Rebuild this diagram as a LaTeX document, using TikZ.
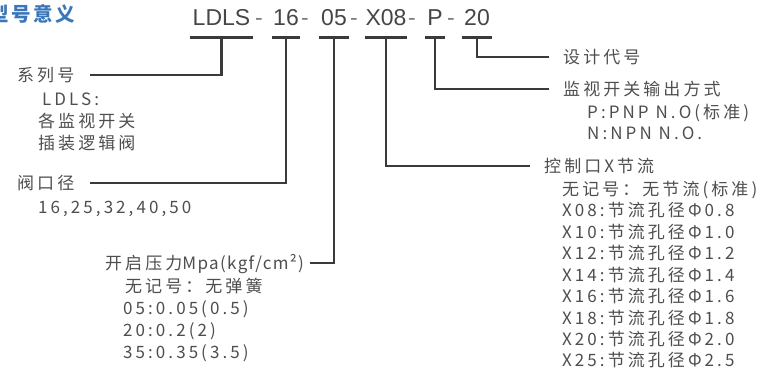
\documentclass[tikz,border=0pt]{standalone}
\usepackage{fontspec}
\setmainfont{Liberation Sans}
\newfontfamily\cjk[LetterSpace=18]{Noto Sans CJK SC}
\newfontfamily\cjktitle[LetterSpace=14]{Noto Sans CJK SC}
\newfontfamily\codefont{Liberation Sans}
\definecolor{txtgray}{RGB}{78,78,78}
\definecolor{linegray}{RGB}{58,58,58}
\definecolor{codegray}{RGB}{70,70,70}
\definecolor{titleblue}{RGB}{58,118,186}
\begin{document}
\begin{tikzpicture}[x=1pt,y=-1pt,
  lbl/.style={anchor=west, inner sep=0pt, text=txtgray, text height=14.5pt, text depth=2pt,
              font=\cjk\fontsize{17}{21}\selectfont},
  titlestyle/.style={anchor=west, inner sep=0pt, text=titleblue, font=\cjktitle\bfseries\fontsize{19.5}{21}\selectfont},
  code/.style={anchor=south, inner xsep=0pt, inner ysep=11pt, text height=15pt, text depth=0pt,
               font=\codefont\fontsize{23}{25}\selectfont, text=codegray},
  sepmark/.style={code, text=codegray!70},
  ul/.style={line width=3pt, draw=linegray},
  conn/.style={line width=2.4pt, draw=linegray}]
\useasboundingbox (0,0) rectangle (768,370);

% title
\node[titlestyle] (title) at (-11,14) {型号意义};

% model code
\node[code, minimum width=63pt] (c1) at (221.5,37) {LDLS};
\node[code, minimum width=28pt] (c2) at (286,37) {16};
\node[code, minimum width=30pt] (c3) at (334,37) {05};
\node[code, minimum width=42pt] (c4) at (386,37) {X08};
\node[code, minimum width=20pt] (c5) at (435,37) {P};
\node[code, minimum width=30pt] (c6) at (477,37) {20};
\node[sepmark] (h1) at (259,37) {-};
\node[sepmark] (h2) at (305,37) {-};
\node[sepmark] (h3) at (354,37) {-};
\node[sepmark] (h4) at (412,37) {-};
\node[sepmark] (h5) at (451,37) {-};
\foreach \n in {c1,c2,c3,c4,c5,c6}
  \draw[ul] (\n.south west) -- (\n.south east);

% left labels
\node[lbl] (series) at (17,75) {系列号};
\node[lbl] (s1) at (42,99) {LDLS:};
\node[lbl] (s2) at (38,121) {各监视开关};
\node[lbl] (s3) at (38,143) {插装逻辑阀};
\node[lbl] (diam) at (17,183) {阀口径};
\node[lbl] (dm1) at (38,207) {16,25,32,40,50};

% pressure
\node[lbl] (press) at (105,263) {开启压力\addfontfeature{LetterSpace=8}Mpa(kgf/cm²)};
\node[lbl] (p1) at (125,286) {无记号：无弹簧};
\node[lbl] (p2) at (123,308) {05:0.05(0.5)};
\node[lbl] (p3) at (123,330) {20:0.2(2)};
\node[lbl] (p4) at (123,352) {35:0.35(3.5)};

% right labels
\node[lbl] (design) at (563,57) {设计代号};
\node[lbl] (out) at (563,89) {监视开关输出方式};
\node[lbl] (o1) at (587,112) {P:PNP N.O(标准)};
\node[lbl] (o2) at (587,133) {N:NPN N.O.};
\node[lbl] (ctrl) at (544,166) {控制口X节流};
\node[lbl] (k0) at (562,189) {无记号：无节流(标准)};
\node[lbl] (k1) at (562,210.5) {X08:节流孔径Φ0.8};
\node[lbl] (k2) at (562,232) {X10:节流孔径Φ1.0};
\node[lbl] (k3) at (562,253) {X12:节流孔径Φ1.2};
\node[lbl] (k4) at (562,275) {X14:节流孔径Φ1.4};
\node[lbl] (k5) at (562,296) {X16:节流孔径Φ1.6};
\node[lbl] (k6) at (562,318) {X18:节流孔径Φ1.8};
\node[lbl] (k7) at (562,339) {X20:节流孔径Φ2.0};
\node[lbl] (k8) at (562,360) {X25:节流孔径Φ2.5};

% connectors
\draw[conn] (c1.south) |- ([xshift=15pt]series.east);
\draw[conn] (c2.south) |- ([xshift=15pt]diam.east);
\draw[conn] (c3.south) |- ([xshift=6pt]press.east);
\draw[conn] (c4.south) |- ([xshift=-14pt]ctrl.west);
\draw[conn] (c5.south) |- ([xshift=-14pt]out.west);
\draw[conn] (c6.south) |- ([xshift=-14pt]design.west);
\end{tikzpicture}
\end{document}
